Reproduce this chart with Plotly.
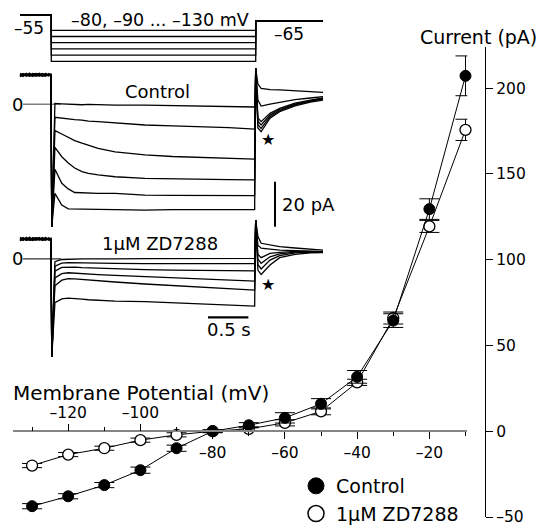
import plotly.graph_objects as go

# ---------------- I-V relation (main panel) ----------------
V_MV = [-130, -120, -110, -100, -90, -80, -70, -60, -50, -40, -30, -20, -10]
I_CTRL = [-43.7, -37.9, -31.4, -22.7, -9.9, 0.0, 3.5, 7.8, 16.0, 31.7, 64.5, 129.5, 207.2]
I_ZD = [-20.0, -13.6, -9.9, -5.2, -2.1, 0.0, 1.4, 4.9, 11.6, 28.5, 66.0, 119.4, 175.7]
ERR_CTRL = [1.5, 1.5, 1.5, 1.8, 1.8, 0.8, 1.5, 3.0, 3.0, 3.7, 4.0, 6.0, 11.6]
ERR_ZD = [1.2, 1.2, 1.2, 1.2, 1.2, 0.8, 1.2, 1.8, 2.0, 1.8, 3.5, 3.5, 6.2]

X_TICKS_BELOW = [-80, -60, -40, -20]
X_MINOR_BELOW = [-70, -50, -30, -10]
X_TICKS_ABOVE = [-120, -100]
X_MINOR_ABOVE = [-130, -110, -90]
Y_TICKS = [-50, 0, 50, 100, 150, 200]

# ---------------- inset: voltage protocol ----------------
HOLD_MV = -55
POST_MV = -65
STEP_MV = [-80, -90, -100, -110, -120, -130]
T_PROTO = [-0.388, 0.0, 0.0, 2.533, 2.533, 3.367]

# ---------------- inset: current traces (s, pA) ----------------
T_PRE = [-0.388, -0.35, -0.31, -0.27, -0.23, -0.19, -0.15, -0.11, -0.07, -0.035, -0.004]
T_ON = 0.006
T_STEP = [0.045, 0.13, 0.21, 0.29, 0.38, 0.46, 0.58, 0.79, 1.16, 1.5, 1.84, 2.2, 2.52]
T_OFF = 2.533
T_TAIL = [2.56, 2.60, 2.71, 2.83, 3.02, 3.21, 3.367]

CTRL_PRE = [
    [13.5, 12.9, 13.8, 12.7, 13.6, 13.1, 12.6, 13.7, 12.9, 13.4, 13.0],
    [12.4, 13.2, 12.8, 13.9, 12.6, 13.5, 13.2, 12.5, 13.8, 12.8, 13.1],
    [13.0, 12.4, 13.5, 13.1, 12.4, 12.9, 13.8, 13.0, 12.5, 13.6, 12.8],
    [12.7, 13.7, 12.6, 13.3, 13.2, 12.5, 13.0, 13.6, 13.2, 12.6, 13.3],
    [13.8, 13.0, 12.5, 12.8, 13.7, 13.4, 12.7, 12.8, 13.5, 13.1, 12.7],
    [12.3, 13.5, 13.3, 12.5, 12.9, 13.7, 13.4, 12.6, 12.7, 13.4, 13.5],
]
CTRL_STEP = [
    [0.4, 0.2, 0.0, -0.1, -0.2, 0.0, -0.2, -0.4, -0.4, -0.6, -0.8, -1.0, -1.2],
    [-5.8, -6.2, -6.7, -6.8, -7.0, -7.5, -7.7, -8.2, -9.2, -9.6, -9.9, -10.4, -11.0],
    [-11.7, -13.2, -14.7, -16.1, -17.3, -18.3, -19.6, -21.1, -22.5, -23.2, -23.6, -24.1, -24.4],
    [-19.1, -23.3, -26.1, -28.3, -29.9, -30.7, -31.4, -32.2, -32.9, -33.2, -33.3, -33.5, -33.6],
    [-28.9, -35.1, -37.6, -39.2, -39.4, -39.6, -39.6, -39.6, -40.4, -40.5, -40.5, -40.6, -40.6],
    [-39.6, -44.8, -46.5, -46.6, -46.6, -46.6, -46.7, -46.8, -47.0, -46.8, -46.9, -46.8, -46.8],
]
CTRL_TAIL = [
    [9.0, 7.1, 6.5, 6.4, 5.9, 5.6, 5.3],
    [1.9, -0.8, 0.1, 1.0, 2.1, 2.8, 3.4],
    [-6.0, -7.7, -4.0, -1.8, 0.5, 1.9, 2.9],
    [-7.5, -9.2, -4.8, -2.3, 0.1, 1.6, 2.6],
    [-9.0, -10.7, -5.5, -2.8, -0.3, 1.3, 2.3],
    [-10.5, -12.2, -6.2, -3.3, -0.7, 1.0, 1.9],
]
CTRL_SPIKE_MIN = -54.4
CTRL_SPIKE_MAX = 16.0

ZD_PRE = [
    [9.2, 8.5, 9.5, 8.4, 9.3, 8.8, 8.3, 9.4, 8.6, 9.1, 8.9],
    [8.1, 8.9, 8.5, 9.6, 8.3, 9.2, 8.9, 8.2, 9.5, 8.5, 8.6],
    [8.7, 8.1, 9.2, 8.8, 8.1, 8.6, 9.5, 8.7, 8.2, 9.3, 8.8],
    [8.4, 9.4, 8.3, 9.0, 8.9, 8.2, 8.7, 9.3, 8.9, 8.3, 8.3],
    [9.5, 8.7, 8.2, 8.5, 9.4, 9.1, 8.4, 8.5, 9.2, 8.8, 9.2],
    [8.0, 9.2, 9.0, 8.2, 8.6, 9.4, 9.1, 8.3, 8.4, 9.1, 7.9],
]
ZD_STEP = [
    [-1.3, -0.3, -0.1, 0.0, 0.0, 0.0, 0.1, 0.0, 0.1, 0.2, 0.2, 0.2, 0.2],
    [-3.3, -1.9, -1.7, -1.7, -1.8, -1.8, -1.9, -2.0, -2.1, -2.0, -2.0, -2.1, -2.1],
    [-5.5, -3.8, -3.6, -3.7, -3.9, -4.0, -4.2, -4.5, -4.8, -5.0, -5.1, -5.3, -5.4],
    [-8.5, -6.6, -6.2, -6.3, -6.5, -6.7, -7.0, -7.4, -8.0, -8.5, -8.9, -9.4, -9.9],
    [-12.0, -9.5, -8.8, -8.9, -9.2, -9.5, -9.8, -10.3, -11.2, -11.9, -12.5, -13.2, -13.9],
    [-19.5, -17.8, -17.5, -17.6, -17.9, -18.2, -18.5, -18.8, -19.0, -19.5, -19.9, -20.5, -21.0],
]
ZD_TAIL = [
    [10.0, 6.9, 6.2, 5.4, 4.8, 4.3, 3.9],
    [6.0, 4.7, 4.3, 3.9, 3.6, 3.4, 3.2],
    [2.0, 0.5, 2.4, 2.9, 3.3, 3.3, 3.2],
    [0.0, -2.0, 0.9, 2.2, 3.0, 3.1, 3.0],
    [-2.5, -4.5, -0.6, 1.4, 2.6, 2.9, 2.9],
    [-5.0, -7.0, -2.8, 0.5, 2.0, 2.6, 2.8],
]
ZD_SPIKE_MIN = -43.5
ZD_SPIKE_MAX = 17.2

ZERO_T = [-0.35, 0.12]
SCALE_I_T = [2.772, 2.772]          # vertical 20 pA bar (time position)
SCALE_I_PA = [-34.4, -54.4]
SCALE_T_S = [1.942, 2.442]          # horizontal 0.5 s bar
SCALE_T_PA = [-26.0, -26.0]

# ---------------- geometry (pixels of the 546x527 page) ----------------
W, H = 546, 527
FONT = "DejaVu Sans"

def fx(p):
    return p / W

def fy(p):
    return (H - p) / H

# main axes
X_L_PX, X_R_PX = 13.3, 467.3
X_RANGE = [-135.2, -9.5]
Y_T_PX, Y_B_PX = 47.0, 517.0
Y_RANGE = [-50, 224]
Y_AXIS_PX = 485.0
y_dom = [fy(Y_B_PX), fy(Y_T_PX)]
zero_pos = y_dom[0] + (0 - Y_RANGE[0]) / (Y_RANGE[1] - Y_RANGE[0]) * (y_dom[1] - y_dom[0])

# inset scales
T0_PX, PX_PER_S = 51.3, 80.7
CTRL_ZERO_PX, ZD_ZERO_PX, PX_PER_PA = 104.3, 258.8, 2.25
HOLD_PX, PX_PER_MV = 14.8, 0.62
x2_range = [-T0_PX / PX_PER_S, (W - T0_PX) / PX_PER_S]
y2_range = [(CTRL_ZERO_PX - H) / PX_PER_PA, CTRL_ZERO_PX / PX_PER_PA]
y3_range = [(ZD_ZERO_PX - H) / PX_PER_PA, ZD_ZERO_PX / PX_PER_PA]
y4_range = [HOLD_MV - (H - HOLD_PX) / PX_PER_MV, HOLD_MV + HOLD_PX / PX_PER_MV]

fig = go.Figure()

# ---- I-V traces ----
common_line = dict(color="black", width=1)
fig.add_trace(go.Scatter(
    x=V_MV, y=I_ZD, mode="lines+markers", showlegend=False, cliponaxis=False,
    line=common_line,
    marker=dict(size=11, color="white", line=dict(color="black", width=1.3)),
    error_y=dict(type="data", array=ERR_ZD, color="black", thickness=1, width=10),
))
fig.add_trace(go.Scatter(
    x=V_MV, y=I_CTRL, mode="lines+markers", showlegend=False, cliponaxis=False,
    line=common_line,
    marker=dict(size=11, color="black", line=dict(color="black", width=1)),
    error_y=dict(type="data", array=ERR_CTRL, color="black", thickness=1, width=10),
))
# legend entries
fig.add_trace(go.Scatter(x=[None], y=[None], mode="markers", name="Control", legendgroup="a",
                         marker=dict(size=16, color="black", line=dict(color="black", width=1))))
fig.add_trace(go.Scatter(x=[None], y=[None], mode="markers", name="1μM ZD7288", legendgroup="b",
                         marker=dict(size=16, color="white", line=dict(color="black", width=1.5))))
# dummy for top x-axis
fig.add_trace(go.Scatter(x=[None], y=[None], xaxis="x5", yaxis="y", showlegend=False))

# ---- protocol ----
for v in STEP_MV:
    fig.add_trace(go.Scatter(
        x=T_PROTO, y=[HOLD_MV, HOLD_MV, v, v, POST_MV, POST_MV],
        xaxis="x2", yaxis="y4", mode="lines", showlegend=False,
        line=dict(color="black", width=1.3),
    ))

# ---- current traces ----
def build(pre, step, tail, smin, smax):
    t = T_PRE + [T_ON] + T_STEP + [T_OFF] + T_TAIL
    i = pre + [smin] + step + [smax] + tail
    return t, i

fig.add_trace(go.Scatter(x=ZERO_T, y=[0, 0], xaxis="x2", yaxis="y2", mode="lines",
                         showlegend=False, line=dict(color="#808080", width=1.5)))
fig.add_trace(go.Scatter(x=ZERO_T, y=[0, 0], xaxis="x2", yaxis="y3", mode="lines",
                         showlegend=False, line=dict(color="#303030", width=1.3)))

for k in range(6):
    t, i = build(CTRL_PRE[k], CTRL_STEP[k], CTRL_TAIL[k], CTRL_SPIKE_MIN, CTRL_SPIKE_MAX)
    fig.add_trace(go.Scatter(x=t, y=i, xaxis="x2", yaxis="y2", mode="lines", showlegend=False,
                             line=dict(color="black", width=1.3)))
    t, i = build(ZD_PRE[k], ZD_STEP[k], ZD_TAIL[k], ZD_SPIKE_MIN, ZD_SPIKE_MAX)
    fig.add_trace(go.Scatter(x=t, y=i, xaxis="x2", yaxis="y3", mode="lines", showlegend=False,
                             line=dict(color="black", width=1.3)))

# scale bars
fig.add_trace(go.Scatter(x=SCALE_I_T, y=SCALE_I_PA, xaxis="x2", yaxis="y2", mode="lines",
                         showlegend=False, line=dict(color="black", width=2)))
fig.add_trace(go.Scatter(x=SCALE_T_S, y=SCALE_T_PA, xaxis="x2", yaxis="y3", mode="lines",
                         showlegend=False, line=dict(color="black", width=2.2)))

# ---- annotations ----
ann = []
def add_text(text, x, y, xref, yref, size, xanchor="center", yanchor="middle"):
    ann.append(dict(text=text, x=x, y=y, xref=xref, yref=yref, showarrow=False,
                    font=dict(size=size, family=FONT, color="black"),
                    xanchor=xanchor, yanchor=yanchor))

add_text("Current (pA)", fx(478), fy(37), "paper", "paper", 19)
add_text("Membrane Potential (mV)", fx(11), fy(393), "paper", "paper", 20, xanchor="left")
# inset labels (inset data coordinates)
add_text("–80, –90 ... –130 mV", 1.35, -62.6, "x2", "y4", 17.5)
add_text("–55", -0.28, -75.5, "x2", "y4", 17)
add_text("–65", 2.945, -85.5, "x2", "y4", 17)
add_text("Control", 1.32, 5.8, "x2", "y2", 18)
add_text("1μM ZD7288", 1.35, 7.0, "x2", "y3", 18)
add_text("0", -0.425, 0, "x2", "y2", 18)
add_text("0", -0.425, 0, "x2", "y3", 18)
add_text("★", 2.688, -15.5, "x2", "y2", 16)
add_text("★", 2.688, -11.5, "x2", "y3", 16)
add_text("20 pA", 2.84, -44.4, "x2", "y2", 18, xanchor="left")
add_text("0.5 s", 2.2, -31.5, "x2", "y3", 18)

axis_font = dict(size=15.5, family=FONT, color="black")

fig.update_layout(
    width=W, height=H,
    margin=dict(l=0, r=0, t=0, b=0, autoexpand=False),
    paper_bgcolor="white", plot_bgcolor="rgba(0,0,0,0)",
    font=dict(family=FONT, color="black"),
    annotations=ann,
    showlegend=True,
    legend=dict(x=fx(296), y=fy(467), xanchor="left", yanchor="top",
                font=dict(size=19, family=FONT, color="black"),
                bgcolor="rgba(0,0,0,0)", tracegroupgap=0, itemsizing="trace"),
    xaxis=dict(domain=[fx(X_L_PX), fx(X_R_PX)], range=X_RANGE, anchor="free", position=zero_pos,
               showline=True, linecolor="#858585", linewidth=2, showgrid=False, zeroline=False,
               ticks="outside", ticklen=7, tickwidth=1.2, tickcolor="black",
               tickvals=X_TICKS_BELOW, ticktext=["–" + str(abs(v)) for v in X_TICKS_BELOW],
               tickfont=axis_font,
               minor=dict(tickvals=X_MINOR_BELOW, ticks="outside", ticklen=4, tickwidth=1.2,
                          tickcolor="black", showgrid=False)),
    xaxis5=dict(domain=[fx(X_L_PX), fx(X_R_PX)], range=X_RANGE, anchor="free", position=zero_pos,
                overlaying="x", side="top", showline=False, showgrid=False, zeroline=False,
                ticks="outside", ticklen=7, tickwidth=1.2, tickcolor="black",
                tickvals=X_TICKS_ABOVE, ticktext=["–" + str(abs(v)) for v in X_TICKS_ABOVE],
                tickfont=axis_font,
                minor=dict(tickvals=X_MINOR_ABOVE, ticks="outside", ticklen=4, tickwidth=1.2,
                           tickcolor="black", showgrid=False)),
    yaxis=dict(domain=y_dom, range=Y_RANGE, anchor="free", position=fx(Y_AXIS_PX), side="right",
               showline=True, linecolor="black", linewidth=1.3, showgrid=False, zeroline=False,
               ticks="outside", ticklen=7, tickwidth=1.2, tickcolor="black",
               tickvals=Y_TICKS, ticktext=[("–" + str(abs(v))) if v < 0 else str(v) for v in Y_TICKS],
               tickfont=axis_font),
    xaxis2=dict(domain=[0, 1], range=x2_range, anchor="y2", visible=False, fixedrange=True),
    yaxis2=dict(domain=[0, 1], range=y2_range, anchor="x2", visible=False, fixedrange=True),
    yaxis3=dict(domain=[0, 1], range=y3_range, anchor="x2", overlaying="y2", visible=False, fixedrange=True),
    yaxis4=dict(domain=[0, 1], range=y4_range, anchor="x2", overlaying="y2", visible=False, fixedrange=True),
)

fig.write_html("out.html")
